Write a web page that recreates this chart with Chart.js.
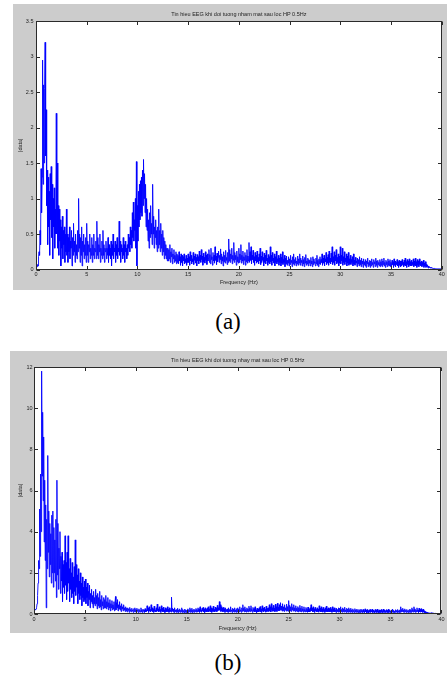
<!DOCTYPE html>
<html>
<head>
<meta charset="utf-8">
<script src="https://cdn.jsdelivr.net/npm/chart.js@4/dist/chart.umd.min.js"></script>
<style>
  html, body { margin: 0; padding: 0; background: #ffffff; }
  body { position: relative; width: 447px; height: 679px; overflow: hidden; }
  .panel { position: absolute; background: #cccccc; }
  .panel canvas { display: block; }
  .caption {
    position: absolute; width: 80px; text-align: center;
    font-family: "Liberation Serif", "Times New Roman", serif;
    font-size: 23px; line-height: 23px; color: #000;
  }
</style>
</head>
<body>
<div class="panel" id="panelA" style="left:13px; top:4px; width:434px; height:286px;">
  <canvas id="chartA" width="434" height="286"></canvas>
</div>
<div class="caption" style="left:188px; top:310px;">(a)</div>

<div class="panel" id="panelB" style="left:10px; top:351px; width:437px; height:282px;">
  <canvas id="chartB" width="437" height="282"></canvas>
</div>
<div class="caption" style="left:188px; top:651px;">(b)</div>

<script>
// Spectrum sampling grid (Hz between consecutive magnitude samples)
const FREQ_STEP_HZ = 0.05;

// X ticks shared by both spectra
const freqTicks = [0, 5, 10, 15, 20, 25, 30, 35, 40];

// |data| spectrum, eyes closed, after 0.5 Hz high-pass (one row per Hz)
const magEyesClosed = [
  0.06, 0.05, 0.04, 0.07, 0.05, 0.18, 0.25, 0.20, 0.55, 0.35, 1.42, 0.80, 1.30, 2.95, 1.20, 2.60, 1.50, 2.55, 3.20, 1.60,
  2.25, 0.90, 1.40, 0.35, 1.30, 0.60, 1.10, 0.20, 1.35, 0.70, 1.45, 0.45, 1.20, 0.15, 1.00, 0.60, 1.15, 0.30, 0.85, 0.50,
  2.20, 0.50, 1.50, 0.30, 0.90, 0.20, 0.85, 0.40, 0.70, 0.05, 0.60, 0.30, 0.75, 0.15, 0.55, 0.35, 0.60, 0.10, 0.50, 0.25,
  0.85, 0.20, 0.50, 0.10, 0.45, 0.25, 0.60, 0.15, 0.40, 0.30, 0.55, 0.05, 0.45, 0.20, 0.65, 0.25, 0.40, 0.10, 0.50, 0.20,
  0.35, 0.15, 0.55, 0.25, 1.00, 0.30, 0.50, 0.10, 0.45, 0.20, 0.60, 0.05, 0.40, 0.25, 0.50, 0.15, 0.35, 0.20, 0.45, 0.10,
  0.65, 0.20, 0.40, 0.10, 0.35, 0.25, 0.50, 0.15, 0.30, 0.20, 0.45, 0.10, 0.35, 0.20, 0.50, 0.15, 0.30, 0.25, 0.40, 0.15,
  0.68, 0.20, 0.45, 0.15, 0.35, 0.25, 0.50, 0.10, 0.30, 0.20, 0.40, 0.15, 0.55, 0.20, 0.35, 0.10, 0.30, 0.25, 0.40, 0.15,
  0.30, 0.20, 0.45, 0.10, 0.35, 0.20, 0.30, 0.15, 0.40, 0.05, 0.35, 0.20, 0.50, 0.15, 0.30, 0.25, 0.40, 0.10, 0.35, 0.20,
  0.45, 0.15, 0.30, 0.25, 0.68, 0.20, 0.40, 0.10, 0.35, 0.25, 0.30, 0.15, 0.45, 0.20, 0.35, 0.10, 0.40, 0.25, 0.30, 0.15,
  0.35, 0.20, 0.50, 0.30, 0.45, 0.25, 0.60, 0.35, 0.55, 0.30, 0.80, 0.45, 0.95, 0.40, 0.70, 0.55, 1.00, 0.30, 1.52, 0.05,
  0.90, 0.40, 1.10, 0.60, 1.20, 0.70, 1.25, 0.80, 1.30, 0.75, 1.40, 0.90, 1.55, 1.00, 1.35, 0.80, 1.20, 0.60, 1.00, 0.55,
  0.85, 0.40, 0.70, 0.30, 0.80, 0.45, 0.90, 0.50, 0.65, 0.35, 1.20, 0.50, 0.75, 0.30, 0.60, 0.45, 0.70, 0.35, 0.55, 0.25,
  0.60, 0.30, 0.85, 0.35, 0.55, 0.25, 0.65, 0.30, 0.50, 0.20, 0.55, 0.25, 0.45, 0.15, 0.40, 0.20, 0.35, 0.15, 0.30, 0.12,
  0.30, 0.12, 0.28, 0.15, 0.35, 0.10, 0.25, 0.18, 0.30, 0.08, 0.22, 0.15, 0.28, 0.10, 0.20, 0.12, 0.25, 0.08, 0.22, 0.10,
  0.20, 0.08, 0.25, 0.12, 0.18, 0.06, 0.22, 0.10, 0.20, 0.05, 0.18, 0.12, 0.22, 0.08, 0.15, 0.10, 0.20, 0.06, 0.16, 0.10,
  0.22, 0.10, 0.18, 0.06, 0.25, 0.12, 0.20, 0.08, 0.15, 0.11, 0.24, 0.07, 0.19, 0.13, 0.22, 0.09, 0.17, 0.05, 0.21, 0.12,
  0.18, 0.08, 0.26, 0.12, 0.20, 0.10, 0.28, 0.14, 0.19, 0.06, 0.23, 0.11, 0.17, 0.09, 0.25, 0.13, 0.20, 0.07, 0.22, 0.12,
  0.16, 0.28, 0.10, 0.21, 0.08, 0.30, 0.14, 0.18, 0.06, 0.24, 0.12, 0.20, 0.09, 0.32, 0.13, 0.19, 0.07, 0.23, 0.11, 0.17,
  0.26, 0.10, 0.20, 0.14, 0.29, 0.08, 0.22, 0.12, 0.18, 0.05, 0.25, 0.11, 0.20, 0.09, 0.27, 0.13, 0.17, 0.07, 0.24, 0.10,
  0.43, 0.12, 0.28, 0.10, 0.22, 0.15, 0.30, 0.08, 0.20, 0.13, 0.38, 0.10, 0.24, 0.14, 0.20, 0.06, 0.26, 0.11, 0.18, 0.09,
  0.30, 0.10, 0.22, 0.14, 0.35, 0.09, 0.20, 0.12, 0.26, 0.07, 0.18, 0.13, 0.24, 0.06, 0.20, 0.11, 0.28, 0.09, 0.19, 0.12,
  0.38, 0.10, 0.25, 0.13, 0.32, 0.08, 0.20, 0.14, 0.27, 0.10, 0.18, 0.06, 0.24, 0.12, 0.20, 0.09, 0.26, 0.11, 0.17, 0.08,
  0.22, 0.12, 0.30, 0.07, 0.19, 0.10, 0.25, 0.13, 0.17, 0.05, 0.23, 0.10, 0.20, 0.08, 0.27, 0.12, 0.16, 0.06, 0.21, 0.10,
  0.18, 0.08, 0.32, 0.11, 0.20, 0.06, 0.24, 0.12, 0.16, 0.09, 0.22, 0.05, 0.18, 0.10, 0.26, 0.08, 0.15, 0.11, 0.20, 0.06,
  0.16, 0.10, 0.22, 0.05, 0.17, 0.09, 0.25, 0.07, 0.14, 0.10, 0.20, 0.04, 0.16, 0.08, 0.19, 0.06, 0.13, 0.09, 0.18, 0.05,
  0.15, 0.07, 0.20, 0.10, 0.13, 0.04, 0.18, 0.08, 0.22, 0.06, 0.14, 0.09, 0.17, 0.05, 0.12, 0.08, 0.19, 0.06, 0.15, 0.09,
  0.22, 0.06, 0.16, 0.10, 0.13, 0.05, 0.19, 0.08, 0.14, 0.04, 0.17, 0.09, 0.21, 0.06, 0.12, 0.08, 0.16, 0.05, 0.14, 0.09,
  0.13, 0.05, 0.17, 0.08, 0.12, 0.04, 0.18, 0.07, 0.15, 0.09, 0.11, 0.05, 0.16, 0.08, 0.20, 0.06, 0.13, 0.04, 0.15, 0.08,
  0.18, 0.07, 0.14, 0.10, 0.22, 0.06, 0.16, 0.09, 0.20, 0.05, 0.15, 0.11, 0.24, 0.07, 0.17, 0.09, 0.21, 0.06, 0.26, 0.10,
  0.16, 0.08, 0.23, 0.11, 0.32, 0.07, 0.18, 0.10, 0.25, 0.06, 0.20, 0.12, 0.28, 0.08, 0.17, 0.10, 0.22, 0.05, 0.19, 0.09,
  0.32, 0.08, 0.20, 0.12, 0.30, 0.06, 0.18, 0.10, 0.25, 0.07, 0.16, 0.11, 0.22, 0.05, 0.19, 0.09, 0.24, 0.06, 0.15, 0.08,
  0.20, 0.07, 0.14, 0.10, 0.18, 0.05, 0.22, 0.08, 0.13, 0.06, 0.17, 0.09, 0.12, 0.04, 0.16, 0.08, 0.14, 0.05, 0.18, 0.07,
  0.13, 0.04, 0.16, 0.08, 0.12, 0.03, 0.15, 0.07, 0.11, 0.05, 0.14, 0.03, 0.12, 0.08, 0.16, 0.04, 0.10, 0.06, 0.13, 0.03,
  0.12, 0.05, 0.15, 0.07, 0.10, 0.03, 0.14, 0.08, 0.11, 0.04, 0.16, 0.06, 0.12, 0.03, 0.13, 0.07, 0.10, 0.05, 0.14, 0.04,
  0.11, 0.06, 0.15, 0.04, 0.12, 0.07, 0.16, 0.05, 0.10, 0.03, 0.13, 0.07, 0.11, 0.04, 0.15, 0.06, 0.12, 0.05, 0.14, 0.04,
  0.10, 0.05, 0.13, 0.07, 0.11, 0.03, 0.15, 0.06, 0.12, 0.04, 0.10, 0.07, 0.14, 0.05, 0.11, 0.03, 0.13, 0.06, 0.12, 0.04,
  0.12, 0.05, 0.14, 0.07, 0.10, 0.04, 0.13, 0.06, 0.16, 0.05, 0.11, 0.03, 0.14, 0.07, 0.12, 0.04, 0.15, 0.06, 0.11, 0.05,
  0.13, 0.05, 0.10, 0.07, 0.15, 0.04, 0.12, 0.06, 0.16, 0.05, 0.11, 0.03, 0.14, 0.06, 0.12, 0.04, 0.15, 0.07, 0.10, 0.05,
  0.12, 0.04, 0.10, 0.06, 0.13, 0.03, 0.09, 0.05, 0.11, 0.03, 0.07, 0.04, 0.06, 0.02, 0.05, 0.03, 0.04, 0.02, 0.03, 0.02,
  0.03, 0.02, 0.02, 0.015, 0.02, 0.01, 0.015, 0.01, 0.012, 0.01, 0.01, 0.008, 0.01, 0.008, 0.01, 0.008, 0.01, 0.008, 0.01, 0.008,
  0.01
];

// |data| spectrum, eye blinking, after 0.5 Hz high-pass (one row per Hz)
const magBlinking = [
  0.20, 0.18, 0.22, 0.20, 0.25, 0.30, 0.50, 0.90, 1.50, 2.60, 2.20, 5.10, 2.80, 6.80, 4.00, 11.80, 6.70, 9.80, 5.50, 8.60,
  3.50, 6.50, 2.60, 5.30, 0.30, 4.60, 2.20, 7.70, 3.00, 5.00, 1.80, 4.40, 2.40, 3.90, 1.50, 4.80, 2.00, 5.00, 1.30, 4.20,
  2.00, 3.60, 1.60, 4.60, 0.80, 6.50, 1.90, 4.40, 1.20, 3.20, 2.20, 4.00, 1.00, 2.80, 1.60, 3.00, 0.60, 2.40, 1.30, 2.60,
  1.00, 3.80, 1.40, 2.50, 0.70, 3.00, 1.10, 3.80, 1.50, 2.20, 0.60, 2.70, 1.20, 2.00, 0.80, 2.50, 1.00, 1.80, 0.50, 2.30,
  1.10, 3.60, 0.90, 2.40, 1.30, 1.90, 0.50, 2.20, 1.00, 1.60, 0.70, 2.00, 0.90, 1.50, 0.40, 1.80, 0.80, 1.30, 0.60, 1.60,
  0.70, 1.70, 0.50, 1.30, 0.80, 1.50, 0.40, 1.10, 0.70, 1.40, 0.30, 1.00, 0.60, 1.20, 0.50, 0.90, 0.30, 1.10, 0.50, 0.80,
  0.40, 1.20, 0.50, 0.90, 0.25, 1.00, 0.40, 0.80, 0.30, 1.10, 0.35, 0.70, 0.20, 0.90, 0.40, 0.60, 0.25, 0.80, 0.30, 0.70,
  0.30, 0.90, 0.25, 0.60, 0.35, 0.80, 0.20, 0.55, 0.30, 0.70, 0.15, 0.50, 0.30, 0.65, 0.20, 0.45, 0.25, 0.60, 0.15, 0.50,
  0.85, 0.20, 0.55, 0.30, 0.70, 0.15, 0.45, 0.25, 0.60, 0.20, 0.40, 0.12, 0.50, 0.25, 0.35, 0.15, 0.45, 0.20, 0.30, 0.12,
  0.35, 0.15, 0.28, 0.10, 0.30, 0.18, 0.25, 0.08, 0.32, 0.14, 0.22, 0.10, 0.28, 0.15, 0.20, 0.07, 0.26, 0.12, 0.30, 0.10,
  0.22, 0.10, 0.28, 0.14, 0.20, 0.06, 0.25, 0.12, 0.18, 0.09, 0.30, 0.11, 0.20, 0.07, 0.24, 0.13, 0.18, 0.08, 0.26, 0.10,
  0.20, 0.12, 0.40, 0.15, 0.28, 0.08, 0.35, 0.14, 0.22, 0.10, 0.45, 0.16, 0.30, 0.11, 0.25, 0.08, 0.38, 0.13, 0.20, 0.10,
  0.30, 0.12, 0.48, 0.16, 0.25, 0.10, 0.35, 0.14, 0.22, 0.08, 0.40, 0.15, 0.28, 0.10, 0.33, 0.12, 0.20, 0.07, 0.30, 0.11,
  0.25, 0.10, 0.35, 0.13, 0.22, 0.08, 0.30, 0.12, 0.20, 0.09, 0.82, 0.14, 0.28, 0.10, 0.24, 0.07, 0.30, 0.12, 0.20, 0.08,
  0.22, 0.10, 0.28, 0.06, 0.20, 0.12, 0.25, 0.08, 0.18, 0.11, 0.30, 0.07, 0.22, 0.10, 0.17, 0.05, 0.24, 0.09, 0.20, 0.07,
  0.18, 0.10, 0.25, 0.07, 0.20, 0.12, 0.30, 0.08, 0.22, 0.10, 0.28, 0.06, 0.19, 0.11, 0.24, 0.08, 0.20, 0.12, 0.27, 0.09,
  0.22, 0.10, 0.30, 0.12, 0.25, 0.08, 0.35, 0.13, 0.20, 0.09, 0.28, 0.14, 0.32, 0.10, 0.24, 0.07, 0.30, 0.12, 0.22, 0.10,
  0.28, 0.12, 0.35, 0.10, 0.25, 0.14, 0.40, 0.11, 0.30, 0.08, 0.26, 0.13, 0.38, 0.12, 0.22, 0.10, 0.34, 0.15, 0.28, 0.11,
  0.42, 0.15, 0.30, 0.20, 0.60, 0.18, 0.45, 0.12, 0.35, 0.15, 0.28, 0.10, 0.32, 0.14, 0.25, 0.08, 0.30, 0.12, 0.22, 0.10,
  0.25, 0.08, 0.30, 0.12, 0.22, 0.10, 0.35, 0.14, 0.20, 0.07, 0.28, 0.12, 0.24, 0.09, 0.30, 0.11, 0.20, 0.08, 0.26, 0.10,
  0.30, 0.12, 0.24, 0.10, 0.35, 0.14, 0.20, 0.08, 0.30, 0.13, 0.45, 0.15, 0.28, 0.10, 0.35, 0.12, 0.22, 0.09, 0.30, 0.13,
  0.25, 0.10, 0.38, 0.14, 0.28, 0.11, 0.40, 0.15, 0.22, 0.08, 0.32, 0.13, 0.26, 0.10, 0.35, 0.12, 0.20, 0.07, 0.28, 0.11,
  0.24, 0.10, 0.30, 0.13, 0.36, 0.11, 0.25, 0.08, 0.40, 0.14, 0.28, 0.10, 0.33, 0.15, 0.22, 0.09, 0.38, 0.12, 0.27, 0.13,
  0.30, 0.12, 0.45, 0.15, 0.35, 0.10, 0.50, 0.18, 0.30, 0.13, 0.42, 0.15, 0.28, 0.11, 0.48, 0.16, 0.35, 0.12, 0.52, 0.18,
  0.32, 0.15, 0.45, 0.18, 0.55, 0.20, 0.38, 0.14, 0.50, 0.17, 0.35, 0.12, 0.45, 0.20, 0.30, 0.14, 0.48, 0.16, 0.36, 0.13,
  0.65, 0.18, 0.42, 0.15, 0.35, 0.12, 0.50, 0.20, 0.32, 0.14, 0.45, 0.16, 0.30, 0.11, 0.40, 0.15, 0.28, 0.12, 0.36, 0.10,
  0.30, 0.14, 0.42, 0.12, 0.28, 0.10, 0.38, 0.15, 0.25, 0.09, 0.35, 0.13, 0.22, 0.10, 0.32, 0.12, 0.26, 0.08, 0.34, 0.11,
  0.22, 0.10, 0.30, 0.13, 0.45, 0.15, 0.28, 0.10, 0.35, 0.12, 0.25, 0.08, 0.32, 0.14, 0.22, 0.10, 0.30, 0.12, 0.24, 0.09,
  0.40, 0.14, 0.28, 0.10, 0.35, 0.12, 0.25, 0.09, 0.32, 0.13, 0.22, 0.08, 0.30, 0.12, 0.38, 0.11, 0.25, 0.10, 0.30, 0.12,
  0.26, 0.10, 0.32, 0.12, 0.22, 0.08, 0.35, 0.13, 0.25, 0.10, 0.30, 0.11, 0.20, 0.07, 0.28, 0.12, 0.22, 0.09, 0.30, 0.10,
  0.28, 0.10, 0.35, 0.12, 0.22, 0.08, 0.30, 0.11, 0.25, 0.09, 0.33, 0.12, 0.20, 0.07, 0.28, 0.10, 0.24, 0.08, 0.30, 0.10,
  0.22, 0.08, 0.28, 0.10, 0.20, 0.07, 0.25, 0.11, 0.18, 0.06, 0.26, 0.10, 0.20, 0.08, 0.24, 0.09, 0.17, 0.06, 0.22, 0.08,
  0.20, 0.07, 0.24, 0.10, 0.18, 0.06, 0.22, 0.09, 0.16, 0.07, 0.25, 0.10, 0.19, 0.06, 0.22, 0.08, 0.16, 0.06, 0.20, 0.09,
  0.22, 0.08, 0.17, 0.10, 0.24, 0.07, 0.19, 0.09, 0.15, 0.06, 0.22, 0.10, 0.18, 0.07, 0.24, 0.09, 0.16, 0.06, 0.20, 0.08,
  0.18, 0.07, 0.22, 0.09, 0.16, 0.06, 0.24, 0.10, 0.19, 0.07, 0.15, 0.08, 0.21, 0.09, 0.17, 0.06, 0.23, 0.08, 0.18, 0.07,
  0.16, 0.07, 0.20, 0.09, 0.24, 0.08, 0.18, 0.06, 0.15, 0.08, 0.21, 0.10, 0.17, 0.06, 0.22, 0.09, 0.16, 0.07, 0.20, 0.08,
  0.35, 0.10, 0.22, 0.12, 0.28, 0.09, 0.20, 0.08, 0.25, 0.11, 0.18, 0.07, 0.22, 0.10, 0.16, 0.06, 0.20, 0.09, 0.24, 0.08,
  0.20, 0.08, 0.30, 0.12, 0.22, 0.09, 0.35, 0.11, 0.25, 0.08, 0.20, 0.10, 0.30, 0.12, 0.18, 0.07, 0.28, 0.10, 0.22, 0.09,
  0.26, 0.10, 0.20, 0.08, 0.24, 0.09, 0.16, 0.06, 0.12, 0.05, 0.10, 0.04, 0.08, 0.04, 0.06, 0.03, 0.05, 0.03, 0.05, 0.03,
  0.06, 0.04, 0.05, 0.03, 0.04, 0.03, 0.03, 0.02, 0.03, 0.02, 0.02, 0.02, 0.02, 0.015, 0.02, 0.015, 0.015, 0.01, 0.015, 0.01,
  0.01
];

// Y ticks of each panel
const ticksEyesClosed = [0, 0.5, 1, 1.5, 2, 2.5, 3, 3.5];
const ticksBlinking = [0, 2, 4, 6, 8, 10, 12];

const titleEyesClosed = 'Tin hieu EEG khi doi tuong nham mat sau loc HP 0.5Hz';
const titleBlinking = 'Tin hieu EEG khi doi tuong nhay mat sau loc HP 0.5Hz';
const xLabel = 'Frequency (Hz)';
const yLabel = '|data|';

Chart.defaults.font.family = '"Liberation Sans", Arial, sans-serif';
Chart.defaults.color = '#222';

const toPoints = (mags) => mags.map((m, i) => ({ x: +(i * FREQ_STEP_HZ).toFixed(2), y: m }));
const plainNumber = (v) => String(+Number(v).toFixed(2));

// Axes box with inward tick marks on all four sides
const axesBox = {
  id: 'axesBox',
  afterDatasetsDraw(chart) {
    const { ctx, chartArea: a, scales: { x, y } } = chart;
    const len = 3.5;
    const L = Math.round(a.left) + 0.5, R = Math.round(a.right) - 0.5;
    const T = Math.round(a.top) + 0.5, B = Math.round(a.bottom) - 0.5;
    ctx.save();
    ctx.strokeStyle = '#2a2a2a';
    ctx.lineWidth = 1;
    ctx.beginPath();
    x.ticks.forEach((t, i) => {
      const px = Math.round(x.getPixelForTick(i)) + 0.5;
      ctx.moveTo(px, B); ctx.lineTo(px, B - len);
      ctx.moveTo(px, T); ctx.lineTo(px, T + len);
    });
    y.ticks.forEach((t, i) => {
      const py = Math.round(y.getPixelForTick(i)) + 0.5;
      ctx.moveTo(L, py); ctx.lineTo(L + len, py);
      ctx.moveTo(R, py); ctx.lineTo(R - len, py);
    });
    ctx.stroke();
    ctx.strokeRect(L, T, R - L, B - T);
    ctx.restore();
  }
};

// White plotting area on the gray figure background
const plotBackground = {
  id: 'plotBackground',
  beforeDraw(chart) {
    const { ctx, chartArea: a } = chart;
    ctx.save();
    ctx.fillStyle = '#ffffff';
    ctx.fillRect(a.left, a.top, a.right - a.left, a.bottom - a.top);
    ctx.restore();
  }
};

function makeSpectrum(canvasId, mags, yTicks, title, geom) {
  const yMax = yTicks[yTicks.length - 1];
  return new Chart(document.getElementById(canvasId), {
    type: 'line',
    data: {
      datasets: [{
        data: toPoints(mags),
        borderColor: 'rgba(0, 0, 255, 0.9)',
        borderWidth: 1,
        pointRadius: 0,
        tension: 0,
        fill: false
      }]
    },
    options: {
      responsive: false,
      animation: false,
      events: [],
      layout: { padding: { left: 0, right: geom.padRight, top: 0, bottom: 0 } },
      plugins: {
        legend: { display: false },
        tooltip: { enabled: false },
        title: {
          display: true,
          text: title,
          fullSize: false,
          color: '#222',
          font: { size: 5.5, weight: 'normal' },
          padding: { top: geom.titleTop, bottom: geom.titleBottom }
        }
      },
      scales: {
        x: {
          type: 'linear',
          min: 0, max: 40,
          afterBuildTicks: (s) => { s.ticks = freqTicks.map(v => ({ value: v })); },
          afterFit: (s) => { s.height = geom.xHeight; },
          grid: { display: false, drawTicks: false },
          border: { display: false },
          ticks: { font: { size: 5.5 }, color: '#222', padding: geom.xTickPad, maxRotation: 0, callback: plainNumber },
          title: { display: true, text: xLabel, color: '#222', font: { size: 5.5 }, padding: { top: 0, bottom: geom.xTitlePad } }
        },
        y: {
          type: 'linear',
          min: 0, max: yMax,
          afterBuildTicks: (s) => { s.ticks = yTicks.map(v => ({ value: v })); },
          afterFit: (s) => { s.width = geom.yWidth; },
          grid: { display: false, drawTicks: false },
          border: { display: false },
          ticks: { font: { size: 5.5 }, color: '#222', padding: geom.yTickPad, callback: plainNumber },
          title: { display: true, text: yLabel, color: '#222', font: { size: 5.5 }, padding: { top: geom.yTitlePad, bottom: 0 } }
        }
      }
    },
    plugins: [plotBackground, axesBox]
  });
}

makeSpectrum('chartA', magEyesClosed, ticksEyesClosed, titleEyesClosed, {
  padRight: 5.3, titleTop: 6.7, titleBottom: 3.7, xHeight: 20.5, xTickPad: 1.5,
  xTitlePad: 4.7, yWidth: 23, yTickPad: 2.5, yTitlePad: 4.4
});
makeSpectrum('chartB', magBlinking, ticksBlinking, titleBlinking, {
  padRight: 4, titleTop: 5.7, titleBottom: 3.7, xHeight: 19, xTickPad: 2.5,
  xTitlePad: 1.7, yWidth: 24, yTickPad: 1.5, yTitlePad: 7
});
</script>
</body>
</html>
